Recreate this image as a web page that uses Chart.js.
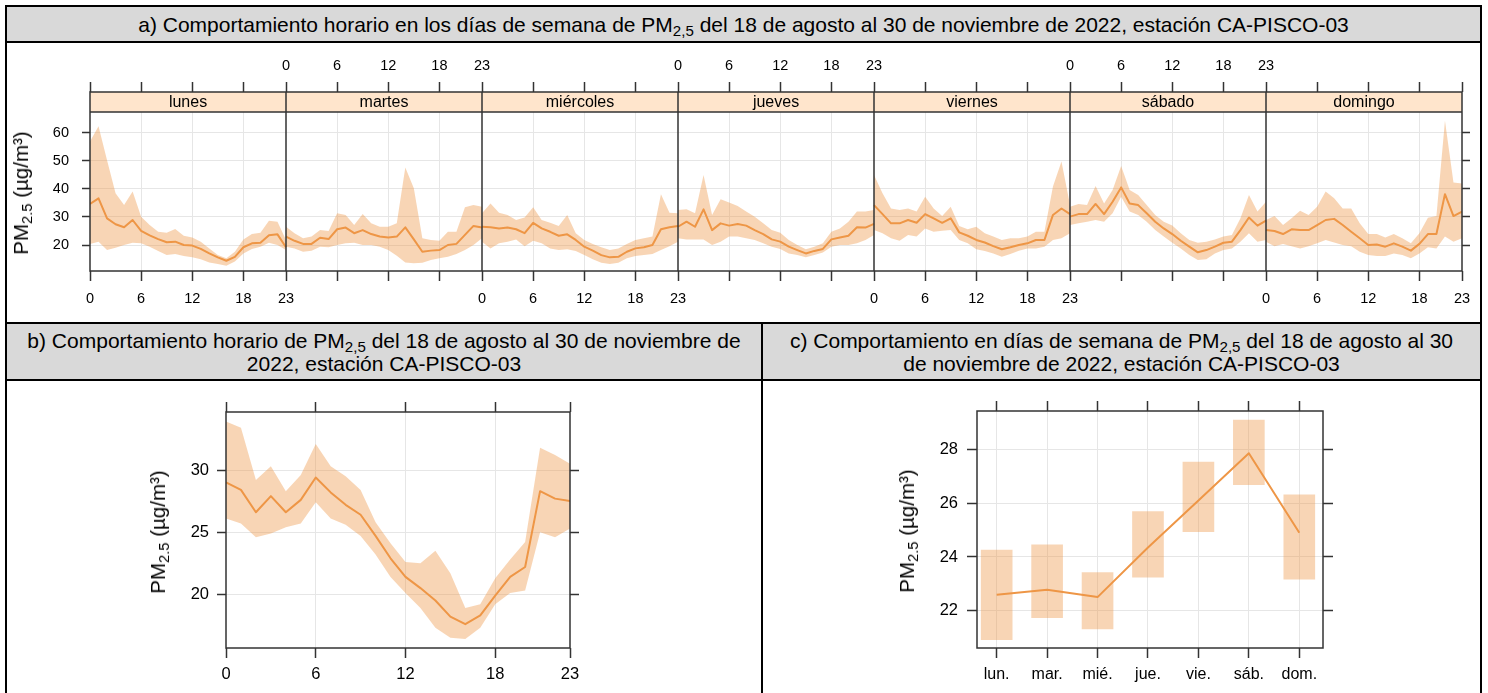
<!DOCTYPE html>
<html>
<head>
<meta charset="utf-8">
<script src="https://cdn.jsdelivr.net/npm/chart.js@4.4.1/dist/chart.umd.min.js"></script>
<style>
  html, body { margin: 0; padding: 0; background: #fff; }
  body { width: 1488px; height: 693px; position: relative; overflow: hidden;
         font-family: "Liberation Sans", Arial, Helvetica, sans-serif; color: #000; }
  .rule { position: absolute; background: #000; }
  .head { position: absolute; background: #d9d9d9; display: flex; align-items: center;
          justify-content: center; text-align: center; font-size: 21px; line-height: 23px; }
  .sub { font-size: 0.72em; position: relative; top: 0.28em; line-height: 0; }
  canvas { position: absolute; }
  .ytitle { position: absolute; white-space: nowrap; font-size: 20.5px; line-height: 24px;
            transform: translate(-50%, -50%) rotate(-90deg); }
</style>
</head>
<body>
  <!-- table frame -->
  <div class="head" style="left:7px;top:7px;width:1473px;height:34px;"><div>a) Comportamiento horario en los días de semana de PM<span class="sub">2,5</span> del 18 de agosto al 30 de noviembre de 2022, estación CA-PISCO-03</div></div>
  <div class="head" style="left:7px;top:324px;width:754px;height:55px;"><div>b) Comportamiento horario de PM<span class="sub">2,5</span> del 18 de agosto al 30 de noviembre de<br>2022, estación CA-PISCO-03</div></div>
  <div class="head" style="left:763px;top:324px;width:717px;height:55px;"><div>c) Comportamiento en días de semana de PM<span class="sub">2,5</span> del 18 de agosto al 30<br>de noviembre de 2022, estación CA-PISCO-03</div></div>

  <div class="rule" style="left:5px;top:5px;width:1477px;height:2px;"></div>
  <div class="rule" style="left:5px;top:41px;width:1477px;height:2px;"></div>
  <div class="rule" style="left:5px;top:322px;width:1477px;height:2px;"></div>
  <div class="rule" style="left:5px;top:379px;width:1477px;height:2px;"></div>
  <div class="rule" style="left:5px;top:5px;width:2px;height:688px;"></div>
  <div class="rule" style="left:1480px;top:5px;width:2px;height:688px;"></div>
  <div class="rule" style="left:761px;top:322px;width:2px;height:371px;"></div>

  <canvas id="chartSemana" width="1473" height="279" style="left:7px;top:43px;width:1473px;height:279px;"></canvas>
  <canvas id="chartHora" width="754" height="312" style="left:7px;top:381px;width:754px;height:312px;"></canvas>
  <canvas id="chartDia" width="717" height="312" style="left:763px;top:381px;width:717px;height:312px;"></canvas>

  <div class="ytitle" style="left:21px;top:193px;">PM<span class="sub">2.5</span> (µg/m³)</div>
  <div class="ytitle" style="left:158px;top:532px;">PM<span class="sub">2.5</span> (µg/m³)</div>
  <div class="ytitle" style="left:907px;top:531px;">PM<span class="sub">2.5</span> (µg/m³)</div>

<script>
// ---------------- data ----------------
const diasSemana = ['lunes', 'martes', 'miércoles', 'jueves', 'viernes', 'sábado', 'domingo'];
const diasCortos = ['lun.', 'mar.', 'mié.', 'jue.', 'vie.', 'sáb.', 'dom.'];
const horaTicks = [0, 6, 12, 18, 23];
const ticksSemanaY = [20, 30, 40, 50, 60];
const ticksHoraY = [20, 25, 30];
const ticksDiaY = [22, 24, 26, 28];

// hourly mean and confidence limits, one array per weekday (hours 0..23)
const lunesMedia = [34.6, 36.6, 29.5, 27.4, 26.3, 28.9, 25.0, 23.4, 22.1, 21.0, 21.2, 20.0, 19.8, 18.6, 17.0, 15.6, 14.4, 15.8, 19.2, 20.6, 20.8, 23.5, 23.8, 19.2];
const lunesAlto  = [56.8, 62.3, 50.2, 38.4, 34.2, 39.0, 30.1, 27.1, 24.7, 24.4, 25.7, 23.3, 22.7, 21.2, 18.8, 16.4, 15.3, 17.6, 22.0, 23.9, 24.4, 28.6, 28.3, 21.8];
const lunesBajo  = [20.4, 21.2, 18.2, 19.0, 20.0, 20.8, 20.6, 19.4, 17.9, 16.4, 16.8, 16.1, 15.6, 14.9, 13.8, 13.2, 12.6, 14.1, 17.0, 18.6, 19.4, 20.8, 20.0, 18.2];

const martesMedia = [23.0, 21.5, 20.4, 20.4, 22.6, 22.1, 25.6, 26.2, 24.2, 25.3, 23.9, 23.0, 22.7, 23.0, 26.3, 22.0, 17.6, 18.0, 18.2, 20.0, 20.4, 23.6, 26.8, 26.2];
const martesAlto  = [26.5, 24.2, 22.4, 23.0, 25.3, 25.0, 31.3, 30.7, 27.1, 31.0, 27.7, 26.5, 26.5, 27.7, 47.6, 40.2, 22.4, 21.8, 21.5, 24.7, 24.7, 33.4, 34.2, 33.6];
const martesBajo  = [19.4, 18.8, 17.6, 18.0, 19.4, 19.2, 20.0, 20.6, 20.8, 20.0, 20.0, 19.4, 18.2, 16.2, 13.8, 13.5, 13.7, 14.7, 15.3, 15.8, 16.8, 18.2, 20.0, 22.4];

const miercolesMedia = [26.5, 26.3, 25.9, 26.2, 25.6, 24.2, 27.9, 25.9, 24.7, 23.3, 23.8, 21.8, 19.4, 18.0, 16.4, 15.6, 15.8, 17.6, 18.8, 19.2, 20.0, 25.6, 26.3, 26.8];
const miercolesAlto  = [31.3, 34.8, 31.5, 30.7, 28.9, 29.8, 33.4, 28.9, 27.9, 26.8, 30.7, 24.2, 21.8, 20.4, 19.2, 18.2, 18.8, 20.4, 21.8, 22.4, 23.0, 38.1, 31.5, 31.3];
const miercolesBajo  = [21.2, 18.8, 20.6, 21.2, 22.0, 19.6, 21.5, 20.6, 18.8, 18.2, 18.5, 17.9, 16.4, 14.9, 13.7, 13.2, 13.7, 15.3, 16.1, 16.4, 16.8, 18.2, 19.6, 21.2];

const juevesMedia = [26.5, 28.3, 26.5, 32.7, 25.3, 27.7, 26.9, 27.5, 26.9, 25.3, 23.9, 22.0, 21.2, 19.4, 18.2, 17.0, 17.9, 18.6, 22.0, 22.7, 23.3, 26.3, 26.2, 27.5];
const juevesAlto  = [32.5, 32.7, 31.3, 44.9, 30.7, 36.3, 35.1, 33.9, 31.9, 30.1, 27.7, 25.3, 24.4, 21.8, 20.0, 18.5, 19.4, 20.6, 24.7, 25.9, 28.3, 31.9, 31.9, 32.5];
const juevesBajo  = [22.4, 22.0, 22.0, 22.0, 20.0, 21.2, 23.0, 23.0, 22.4, 21.8, 20.6, 19.4, 18.6, 17.0, 16.4, 15.6, 16.4, 17.3, 19.4, 20.0, 20.0, 20.6, 21.8, 23.6];

const viernesMedia = [34.2, 31.0, 27.7, 27.7, 28.9, 27.9, 31.0, 29.5, 27.9, 29.5, 24.5, 23.3, 21.8, 20.9, 19.6, 18.5, 19.2, 20.0, 20.6, 21.8, 21.8, 30.7, 33.0, 31.0];
const viernesAlto  = [44.9, 38.4, 33.0, 32.5, 33.0, 31.9, 37.2, 33.0, 30.3, 33.6, 26.8, 25.6, 26.5, 24.2, 23.0, 21.8, 22.4, 22.4, 23.0, 24.7, 24.7, 40.8, 49.7, 34.2];
const viernesBajo  = [25.3, 24.2, 22.4, 21.5, 23.6, 23.0, 25.9, 24.7, 25.1, 25.3, 21.8, 20.6, 18.5, 17.9, 17.0, 15.8, 16.8, 18.0, 18.8, 18.8, 19.4, 21.8, 22.4, 24.2];

const sabadoMedia = [30.1, 31.0, 31.0, 34.6, 31.0, 35.4, 40.5, 34.8, 34.2, 31.3, 28.3, 25.9, 23.9, 21.5, 19.4, 17.4, 18.2, 19.4, 20.8, 21.2, 25.3, 29.8, 26.9, 28.7];
const sabadoAlto  = [33.6, 34.6, 34.2, 41.0, 34.8, 39.6, 48.1, 39.6, 37.8, 34.2, 30.7, 28.3, 26.9, 24.2, 21.8, 20.8, 21.2, 22.0, 23.0, 23.6, 29.5, 37.8, 31.9, 35.4];
const sabadoBajo  = [27.1, 27.7, 28.3, 28.9, 28.3, 31.3, 37.2, 31.9, 30.7, 28.3, 25.3, 23.0, 20.8, 18.8, 16.4, 14.7, 14.9, 17.0, 18.2, 18.8, 21.2, 24.2, 21.2, 21.8];

const domingoMedia = [25.3, 25.0, 23.9, 25.6, 25.3, 25.3, 27.1, 28.9, 29.3, 27.1, 24.7, 22.4, 20.0, 20.2, 19.4, 20.6, 19.4, 18.0, 20.4, 23.9, 23.9, 38.1, 30.3, 31.9];
const domingoAlto  = [28.9, 30.3, 27.1, 29.5, 32.2, 30.7, 33.6, 39.0, 36.6, 33.0, 33.0, 27.7, 23.9, 23.9, 22.7, 23.9, 22.4, 20.6, 24.2, 29.7, 30.3, 64.2, 42.2, 41.9];
const domingoBajo  = [21.2, 19.6, 20.4, 19.6, 18.8, 19.6, 20.6, 21.8, 20.9, 20.0, 19.6, 17.6, 16.4, 16.1, 16.1, 17.0, 16.4, 15.3, 17.0, 19.2, 18.8, 23.0, 21.2, 22.4];

// all days pooled, by hour
const horaMedia = [29.0, 28.4, 26.6, 27.9, 26.6, 27.6, 29.4, 28.2, 27.2, 26.4, 24.7, 22.9, 21.4, 20.5, 19.5, 18.2, 17.6, 18.3, 19.9, 21.4, 22.2, 28.3, 27.7, 27.5];
const horaAlto  = [33.9, 33.4, 29.2, 30.3, 28.3, 29.6, 32.1, 30.3, 29.5, 28.4, 25.8, 24.1, 22.6, 22.5, 23.5, 21.7, 18.9, 19.2, 21.3, 22.8, 24.2, 31.8, 31.2, 30.5];
const horaBajo  = [26.1, 25.7, 24.6, 24.9, 25.4, 25.7, 27.4, 26.1, 25.6, 24.7, 23.2, 21.4, 20.1, 18.9, 17.3, 16.5, 16.4, 17.3, 19.2, 20.1, 20.3, 25.0, 24.6, 25.3];

// daily means by weekday
const diaMedia = [22.60, 22.78, 22.51, 24.35, 26.10, 27.85, 24.90];
const diaBajo  = [20.93, 21.75, 21.33, 23.25, 24.94, 26.68, 23.18];
const diaAlto  = [24.26, 24.45, 23.42, 25.69, 27.52, 29.08, 26.31];

const semanaMedia = [lunesMedia, martesMedia, miercolesMedia, juevesMedia, viernesMedia, sabadoMedia, domingoMedia];
const semanaAlto  = [lunesAlto, martesAlto, miercolesAlto, juevesAlto, viernesAlto, sabadoAlto, domingoAlto];
const semanaBajo  = [lunesBajo, martesBajo, miercolesBajo, juevesBajo, viernesBajo, sabadoBajo, domingoBajo];

// ---------------- styling ----------------
const FAMILY = '"Liberation Sans", Arial, Helvetica, sans-serif';
Chart.defaults.font.family = FAMILY;
Chart.defaults.color = '#000';

const LINE = 'rgb(238,150,70)';
const BAND = 'rgba(238,150,70,0.4)';
const GRID = '#e6e6e6';
const FRAME = '#333333';
const STRIP = '#ffe5cc';
const HOURS_PER_PANEL = 23;
const STRIP_H = 20;

const fitW = w => s => { s.width = w; };
const fitH = h => s => { s.height = h; };
const setTicks = vals => s => { s.ticks = vals.map(v => ({ value: v })); };

const baseOptions = {
  responsive: false,
  devicePixelRatio: 1,
  animation: false,
  events: [],
  layout: { padding: 0 },
  plugins: { legend: { display: false }, tooltip: { enabled: false } }
};

// frame around the plotting region
const framePlugin = {
  id: 'frame',
  afterDatasetsDraw(chart) {
    const { ctx, chartArea: a } = chart;
    ctx.save();
    ctx.strokeStyle = FRAME;
    ctx.lineWidth = 1.5;
    ctx.strokeRect(a.left, a.top, a.right - a.left, a.bottom - a.top);
    ctx.restore();
  }
};

// weekday strips, panel separators and frame for the trellis chart
const stripPlugin = {
  id: 'strips',
  afterDatasetsDraw(chart) {
    const { ctx, chartArea: a, scales } = chart;
    const x = scales.x;
    ctx.save();
    ctx.fillStyle = STRIP;
    ctx.fillRect(a.left, a.top, a.right - a.left, STRIP_H);
    ctx.strokeStyle = FRAME;
    ctx.lineWidth = 1.5;
    ctx.strokeRect(a.left, a.top, a.right - a.left, a.bottom - a.top);
    ctx.beginPath();
    ctx.moveTo(a.left, a.top + STRIP_H);
    ctx.lineTo(a.right, a.top + STRIP_H);
    for (let d = 1; d < diasSemana.length; d++) {
      const px = x.getPixelForValue(d * HOURS_PER_PANEL);
      ctx.moveTo(px, a.top);
      ctx.lineTo(px, a.bottom);
    }
    ctx.stroke();
    ctx.fillStyle = '#000';
    ctx.font = '16px ' + FAMILY;
    ctx.textAlign = 'center';
    ctx.textBaseline = 'middle';
    diasSemana.forEach((name, d) => {
      const cx = x.getPixelForValue(d * HOURS_PER_PANEL + HOURS_PER_PANEL / 2);
      ctx.fillText(name, cx, a.top + STRIP_H / 2 + 1);
    });
    ctx.restore();
  }
};

// ---------------- a) hour x weekday trellis ----------------
const semanaTickValues = [];
for (let d = 0; d < diasSemana.length; d++) {
  horaTicks.slice(0, 4).forEach(h => semanaTickValues.push(d * HOURS_PER_PANEL + h));
}
semanaTickValues.push(diasSemana.length * HOURS_PER_PANEL);

// labels alternate between bottom (even panels) and top (odd panels)
function panelLabel(v, showPanel) {
  const n = diasSemana.length;
  if (v % HOURS_PER_PANEL === 0) {
    const k = v / HOURS_PER_PANEL;
    if (k < n && showPanel(k)) return '0';
    if (k >= 1 && showPanel(k - 1)) return '23';
    return '';
  }
  const d = Math.floor(v / HOURS_PER_PANEL);
  return showPanel(d) ? String(v - d * HOURS_PER_PANEL) : '';
}

const semanaDatasets = [];
semanaMedia.forEach((serie, d) => {
  semanaDatasets.push({
    data: serie.map((v, h) => ({ x: d * HOURS_PER_PANEL + h, y: v })),
    borderColor: LINE, borderWidth: 2, pointRadius: 0, fill: false, order: 0,
    borderJoinStyle: 'round'
  });
});
semanaAlto.forEach((serie, d) => {
  semanaDatasets.push({
    data: serie.map((v, h) => ({ x: d * HOURS_PER_PANEL + h, y: v })),
    borderWidth: 0, pointRadius: 0, backgroundColor: BAND, fill: '+1', order: 1
  });
  semanaDatasets.push({
    data: semanaBajo[d].map((v, h) => ({ x: d * HOURS_PER_PANEL + h, y: v })),
    borderWidth: 0, pointRadius: 0, fill: false, order: 1
  });
});

const xMax = diasSemana.length * HOURS_PER_PANEL;
const semanaYMin = 10.75, semanaYMax = 74.45;
const tickFontA = { size: 14.5 };

new Chart(document.getElementById('chartSemana'), {
  type: 'line',
  data: { datasets: semanaDatasets },
  plugins: [stripPlugin],
  options: {
    ...baseOptions,
    scales: {
      x: {
        type: 'linear', position: 'bottom', min: 0, max: xMax, bounds: 'data',
        afterBuildTicks: setTicks(semanaTickValues),
        afterFit: fitH(51),
        border: { display: false },
        grid: {
          color: c => (c.tick && c.tick.value % HOURS_PER_PANEL === 0) ? 'rgba(0,0,0,0)' : GRID,
          tickColor: FRAME, tickWidth: 1.5, tickLength: 10
        },
        ticks: {
          autoSkip: false, maxRotation: 0, minRotation: 0, padding: 9,
          font: tickFontA, color: '#000',
          callback: v => panelLabel(v, d => d % 2 === 0)
        }
      },
      x2: {
        type: 'linear', axis: 'x', position: 'top', min: 0, max: xMax, bounds: 'data',
        afterBuildTicks: setTicks(semanaTickValues),
        afterFit: fitH(49),
        border: { display: false },
        grid: { drawOnChartArea: false, tickColor: FRAME, tickWidth: 1.5, tickLength: 10 },
        ticks: {
          autoSkip: false, maxRotation: 0, minRotation: 0, padding: 7,
          font: tickFontA, color: '#000',
          callback: v => panelLabel(v, d => d % 2 === 1)
        }
      },
      y: {
        type: 'linear', position: 'left', min: semanaYMin, max: semanaYMax, bounds: 'data',
        afterBuildTicks: setTicks(ticksSemanaY),
        afterFit: fitW(83),
        border: { display: false },
        grid: { color: GRID, tickColor: FRAME, tickWidth: 1.5, tickLength: 8 },
        ticks: { padding: 13, font: tickFontA, color: '#000' }
      },
      y2: {
        type: 'linear', axis: 'y', position: 'right', min: semanaYMin, max: semanaYMax, bounds: 'data',
        afterBuildTicks: setTicks(ticksSemanaY),
        afterFit: fitW(18),
        border: { display: false },
        grid: { drawOnChartArea: false, tickColor: FRAME, tickWidth: 1.5, tickLength: 8 },
        ticks: { callback: () => '' }
      }
    }
  }
});

// ---------------- b) hourly profile ----------------
new Chart(document.getElementById('chartHora'), {
  type: 'line',
  data: {
    datasets: [
      { data: horaMedia.map((v, h) => ({ x: h, y: v })), borderColor: LINE, borderWidth: 2,
        pointRadius: 0, fill: false, order: 0, borderJoinStyle: 'round' },
      { data: horaAlto.map((v, h) => ({ x: h, y: v })), borderWidth: 0, pointRadius: 0,
        backgroundColor: BAND, fill: '+1', order: 1 },
      { data: horaBajo.map((v, h) => ({ x: h, y: v })), borderWidth: 0, pointRadius: 0,
        fill: false, order: 1 }
    ]
  },
  plugins: [framePlugin],
  options: {
    ...baseOptions,
    scales: {
      x: {
        type: 'linear', position: 'bottom', min: 0, max: 23, bounds: 'data',
        afterBuildTicks: setTicks(horaTicks),
        afterFit: fitH(45),
        border: { display: false },
        grid: { color: c => (c.tick && (c.tick.value === 0 || c.tick.value === 23)) ? 'rgba(0,0,0,0)' : GRID,
                tickColor: FRAME, tickWidth: 1.5, tickLength: 10 },
        ticks: { autoSkip: false, maxRotation: 0, padding: 7, font: { size: 16.5 }, color: '#000' }
      },
      x2: {
        type: 'linear', axis: 'x', position: 'top', min: 0, max: 23, bounds: 'data',
        afterBuildTicks: setTicks(horaTicks),
        afterFit: fitH(31),
        border: { display: false },
        grid: { drawOnChartArea: false, tickColor: FRAME, tickWidth: 1.5, tickLength: 10 },
        ticks: { callback: () => '' }
      },
      y: {
        type: 'linear', position: 'left', min: 15.68, max: 34.67, bounds: 'data',
        afterBuildTicks: setTicks(ticksHoraY),
        afterFit: fitW(219),
        border: { display: false },
        grid: { color: GRID, tickColor: FRAME, tickWidth: 1.5, tickLength: 9 },
        ticks: { padding: 8, font: { size: 16.5 }, color: '#000' }
      },
      y2: {
        type: 'linear', axis: 'y', position: 'right', min: 15.68, max: 34.67, bounds: 'data',
        afterBuildTicks: setTicks(ticksHoraY),
        afterFit: fitW(191),
        border: { display: false },
        grid: { drawOnChartArea: false, tickColor: FRAME, tickWidth: 1.5, tickLength: 9 },
        ticks: { callback: () => '' }
      }
    }
  }
});

// ---------------- c) weekday profile ----------------
const diaIdx = diasCortos.map((_, i) => i);
new Chart(document.getElementById('chartDia'), {
  type: 'bar',
  data: {
    datasets: [
      { type: 'line', data: diaMedia.map((v, i) => ({ x: i, y: v })), borderColor: LINE,
        borderWidth: 2, pointRadius: 0, fill: false, order: 0, borderJoinStyle: 'round' },
      { type: 'bar', data: diaIdx.map(i => ({ x: i, y: [diaBajo[i], diaAlto[i]] })),
        backgroundColor: BAND, borderWidth: 0, barThickness: 31, order: 1 }
    ]
  },
  plugins: [framePlugin],
  options: {
    ...baseOptions,
    scales: {
      x: {
        type: 'linear', position: 'bottom', min: -0.39, max: 6.47, bounds: 'data', offset: false,
        afterBuildTicks: setTicks(diaIdx),
        afterFit: fitH(45),
        border: { display: false },
        grid: { color: GRID, tickColor: FRAME, tickWidth: 1.5, tickLength: 10, offset: false },
        ticks: { autoSkip: false, maxRotation: 0, padding: 7, font: { size: 16 }, color: '#000',
                 callback: v => diasCortos[v] }
      },
      x2: {
        type: 'linear', axis: 'x', position: 'top', min: -0.39, max: 6.47, bounds: 'data', offset: false,
        afterBuildTicks: setTicks(diaIdx),
        afterFit: fitH(30),
        border: { display: false },
        grid: { drawOnChartArea: false, tickColor: FRAME, tickWidth: 1.5, tickLength: 10, offset: false },
        ticks: { callback: () => '' }
      },
      y: {
        type: 'linear', position: 'left', min: 20.62, max: 29.42, bounds: 'data',
        afterBuildTicks: setTicks(ticksDiaY),
        afterFit: fitW(214),
        border: { display: false },
        grid: { color: GRID, tickColor: FRAME, tickWidth: 1.5, tickLength: 10 },
        ticks: { padding: 9, font: { size: 16.5 }, color: '#000' }
      },
      y2: {
        type: 'linear', axis: 'y', position: 'right', min: 20.62, max: 29.42, bounds: 'data',
        afterBuildTicks: setTicks(ticksDiaY),
        afterFit: fitW(157),
        border: { display: false },
        grid: { drawOnChartArea: false, tickColor: FRAME, tickWidth: 1.5, tickLength: 10 },
        ticks: { callback: () => '' }
      }
    }
  }
});
</script>
</body>
</html>
